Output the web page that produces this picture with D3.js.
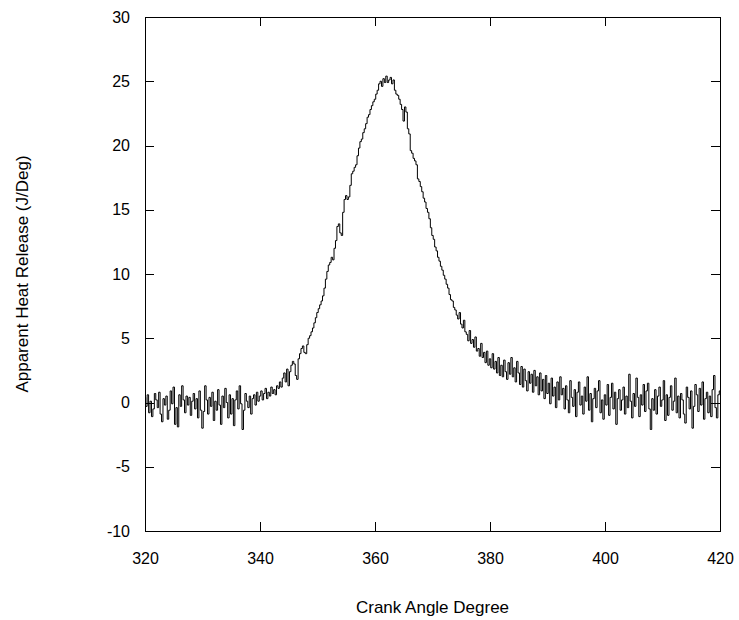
<!DOCTYPE html>
<html lang="en">
<head>
  <meta charset="UTF-8">
  <title>Apparent Heat Release</title>
  <style>
    body { margin: 0; background: #fff; font-family: "Liberation Sans", Arial, sans-serif; }
    .axis path, .axis line { stroke: #000; shape-rendering: crispEdges; }
    .axis text { font-size: 16px; fill: #000; font-family: "Liberation Sans", Arial, sans-serif; }
    .label { font-size: 17px; fill: #000; }
  </style>
  <script src="https://cdn.jsdelivr.net/npm/d3@7"></script>
</head>
<body>
<div id="chart"></div>
<script>
  // crank angle grid: first angle and spacing (deg)
  var angleStart = 320, angleStep = 0.25;

  // apparent heat release (J/Deg), one value per quarter degree
  var heatRelease = [
    // 320 - 329.75
    0.4, -0.3, 0.6, -0.8, 0.1, -1.1, -0.5, 0.7, 0.2, -0.4,
    0.8, -0.9, -1.5, 0.3, -0.2, 0.5, -1.3, -0.6, 0.9, -0.1,
    1.2, -1.7, -0.4, -1.9, 0.6, -0.3, 1.3, 0.2, -0.8, 0.5,
    -0.2, 0.4, -1.0, 0.1, 0.7, -0.5, 0.3, -1.2, 0.9, -0.6,
    // 330 - 339.75
    -2.0, -0.7, 1.3, 0.2, -0.9, 0.4, -0.3, 0.8, -1.4, 0.1,
    -0.6, 1.0, -0.2, -1.7, 0.5, -0.4, 1.1, 0.0, -1.2, 0.6,
    -0.9, 0.3, -1.8, 0.2, 0.9, -0.5, 1.3, -0.1, -2.1, -0.6,
    0.7, 0.1, -0.4, 0.5, -0.9, 0.3, 0.6, -0.2, 0.8, 0.1,
    // 340 - 342.75
    0.5, 0.9, 0.2, 0.7, 1.1, 0.3, 0.8, 0.5, 1.2, 0.7, 1.0, 0.6,
    // 343 - 352.75
    1.3, 1.1, 1.6, 1.2, 1.9, 2.3, 1.6, 2.6, 1.3, 2.4,
    2.9, 3.2, 3.0, 2.1, 1.8, 3.4, 3.8, 4.2, 4.4, 3.9,
    3.8, 4.5, 5.0, 5.2, 5.5, 5.8, 6.2, 6.6, 7.0, 7.3,
    7.6, 7.9, 8.3, 8.9, 9.6, 10.2, 10.7, 10.9, 11.3, 11.1,
    // 353 - 362.75
    12.0, 12.6, 13.7, 13.9, 13.2, 13.0, 14.8, 15.8, 16.1, 15.8,
    16.0, 16.9, 17.8, 18.0, 18.3, 18.5, 19.2, 19.8, 20.3, 20.5,
    21.0, 21.3, 21.7, 22.2, 22.4, 22.8, 23.1, 23.4, 23.6, 24.0,
    24.3, 24.8, 25.0, 24.6, 25.2, 24.9, 25.4, 24.9, 25.1, 25.3,
    // 363 - 372.75
    24.8, 25.1, 24.3, 24.0, 23.9, 23.6, 23.2, 22.8, 21.9, 23.0,
    22.6, 21.3, 20.9, 19.6, 19.4, 19.0, 18.8, 18.5, 17.4, 17.2,
    16.8, 16.4, 15.9, 15.6, 15.1, 14.8, 14.3, 13.6, 13.0, 12.7,
    12.1, 11.8, 11.3, 11.0, 10.6, 10.3, 9.9, 9.6, 9.2, 8.9,
    // 373 - 382.75
    8.4, 8.0, 7.9, 7.4, 7.2, 6.8, 6.5, 7.0, 6.1, 5.8,
    6.4, 5.5, 5.3, 4.8, 5.6, 4.6, 4.9, 4.3, 5.1, 4.0,
    4.2, 3.6, 4.6, 3.5, 3.9, 3.1, 4.0, 2.9, 3.4, 2.7,
    3.8, 2.6, 3.2, 2.3, 3.5, 2.1, 2.9, 2.0, 3.3, 2.4,
    // 383 - 392.75
    1.8, 3.1, 2.2, 3.5, 2.0, 2.7, 1.6, 3.2, 2.3, 1.4,
    2.8, 1.2, 2.6, 1.7, 0.9, 2.4, 1.5, 2.2, 0.8, 2.5,
    1.3, 2.0, 0.6, 2.3, 0.9, 1.8, 0.3, 2.1, 0.7, 1.5,
    -0.1, 1.9, 0.5, 1.2, -0.4, 1.6, 0.2, 2.0, 0.6, 1.1,
    // 393 - 402.75
    -0.5, 1.3, 0.2, -0.8, 1.7, 0.4, -0.3, 1.0, -1.1, 0.8,
    1.6, -0.2, 0.5, -0.9, 1.2, 0.1, 2.0, -0.6, 0.7, -1.5,
    0.3, 1.1, -0.4, 0.9, 1.7, -0.8, 0.2, -1.3, 0.6, -0.2,
    1.4, -1.0, 0.4, 1.5, -0.5, 0.8, -1.7, 0.3, 1.0, -0.6,
    // 403 - 412.75
    0.2, 1.2, -0.9, 0.5, -0.4, 2.2, 0.1, -1.2, 0.7, -0.3,
    1.9, 0.4, -1.1, 0.6, -0.2, 1.4, -0.7, 0.9, 1.5, -0.5,
    -2.1, 0.3, -0.6, 1.0, -0.9, 0.5, 1.2, -0.3, 0.2, 1.7,
    -1.4, 0.6, -1.0, 0.4, 1.3, -0.6, 0.1, 1.9, -0.8, 0.5,
    // 413 - 420
    -1.2, 0.7, 0.2, -0.9, -1.6, 1.2, 0.4, -0.5, 0.9, -2.0,
    -0.3, 1.4, 0.6, -0.7, 1.1, -0.2, 1.6, -1.3, 0.3, 0.8,
    -0.8, 0.5, -1.1, 1.0, 2.1, -0.4, -1.2, 0.6, 0.9
  ];

  var xTicks = [320, 340, 360, 380, 400, 420];
  var yTicks = [-10, -5, 0, 5, 10, 15, 20, 25, 30];

  var data = heatRelease.map(function(v, i) {
    return { angle: angleStart + i * angleStep, q: v };
  });

  var margin = {top: 17, right: 19, bottom: 89, left: 145},
      width = 739 - margin.left - margin.right,
      height = 620 - margin.top - margin.bottom;

  var x = d3.scaleLinear().domain([320, 420]).range([0, width]);
  var y = d3.scaleLinear().domain([-10, 30]).range([height, 0]);

  var plain = function(d) { return String(d); };  // keep "-10" with a hyphen

  var svg = d3.select("#chart").append("svg")
      .attr("width", 739)
      .attr("height", 620)
    .append("g")
      .attr("transform", "translate(" + margin.left + "," + margin.top + ")");

  // bottom / left axes with inward ticks
  svg.append("g")
      .attr("class", "axis")
      .attr("transform", "translate(0," + height + ")")
      .call(d3.axisBottom(x).tickValues(xTicks).tickFormat(plain)
            .tickSizeInner(-9).tickSizeOuter(0).tickPadding(22));

  svg.append("g")
      .attr("class", "axis")
      .call(d3.axisLeft(y).tickValues(yTicks).tickFormat(plain)
            .tickSizeInner(-9).tickSizeOuter(0).tickPadding(15));

  // mirrored top / right axes
  svg.append("g")
      .attr("class", "axis")
      .call(d3.axisTop(x).tickValues(xTicks).tickSizeInner(-9).tickSizeOuter(0).tickFormat(""));

  svg.append("g")
      .attr("class", "axis")
      .attr("transform", "translate(" + width + ",0)")
      .call(d3.axisRight(y).tickValues(yTicks).tickSizeInner(-9).tickSizeOuter(0).tickFormat(""));

  // the trace
  var line = d3.line()
      .x(function(d) { return x(d.angle); })
      .y(function(d) { return y(d.q); })
      .curve(d3.curveStep);

  svg.append("path")
      .datum(data)
      .attr("fill", "none")
      .attr("stroke", "#000")
      .attr("stroke-width", 1)
      .attr("d", line);

  // axis titles
  svg.append("text")
      .attr("class", "label")
      .attr("x", width / 2)
      .attr("y", height + 82)
      .style("text-anchor", "middle")
      .text("Crank Angle Degree");

  svg.append("text")
      .attr("class", "label")
      .attr("transform", "rotate(-90)")
      .attr("x", -height / 2)
      .attr("y", -117)
      .style("text-anchor", "middle")
      .text("Apparent Heat Release (J/Deg)");
</script>
</body>
</html>
